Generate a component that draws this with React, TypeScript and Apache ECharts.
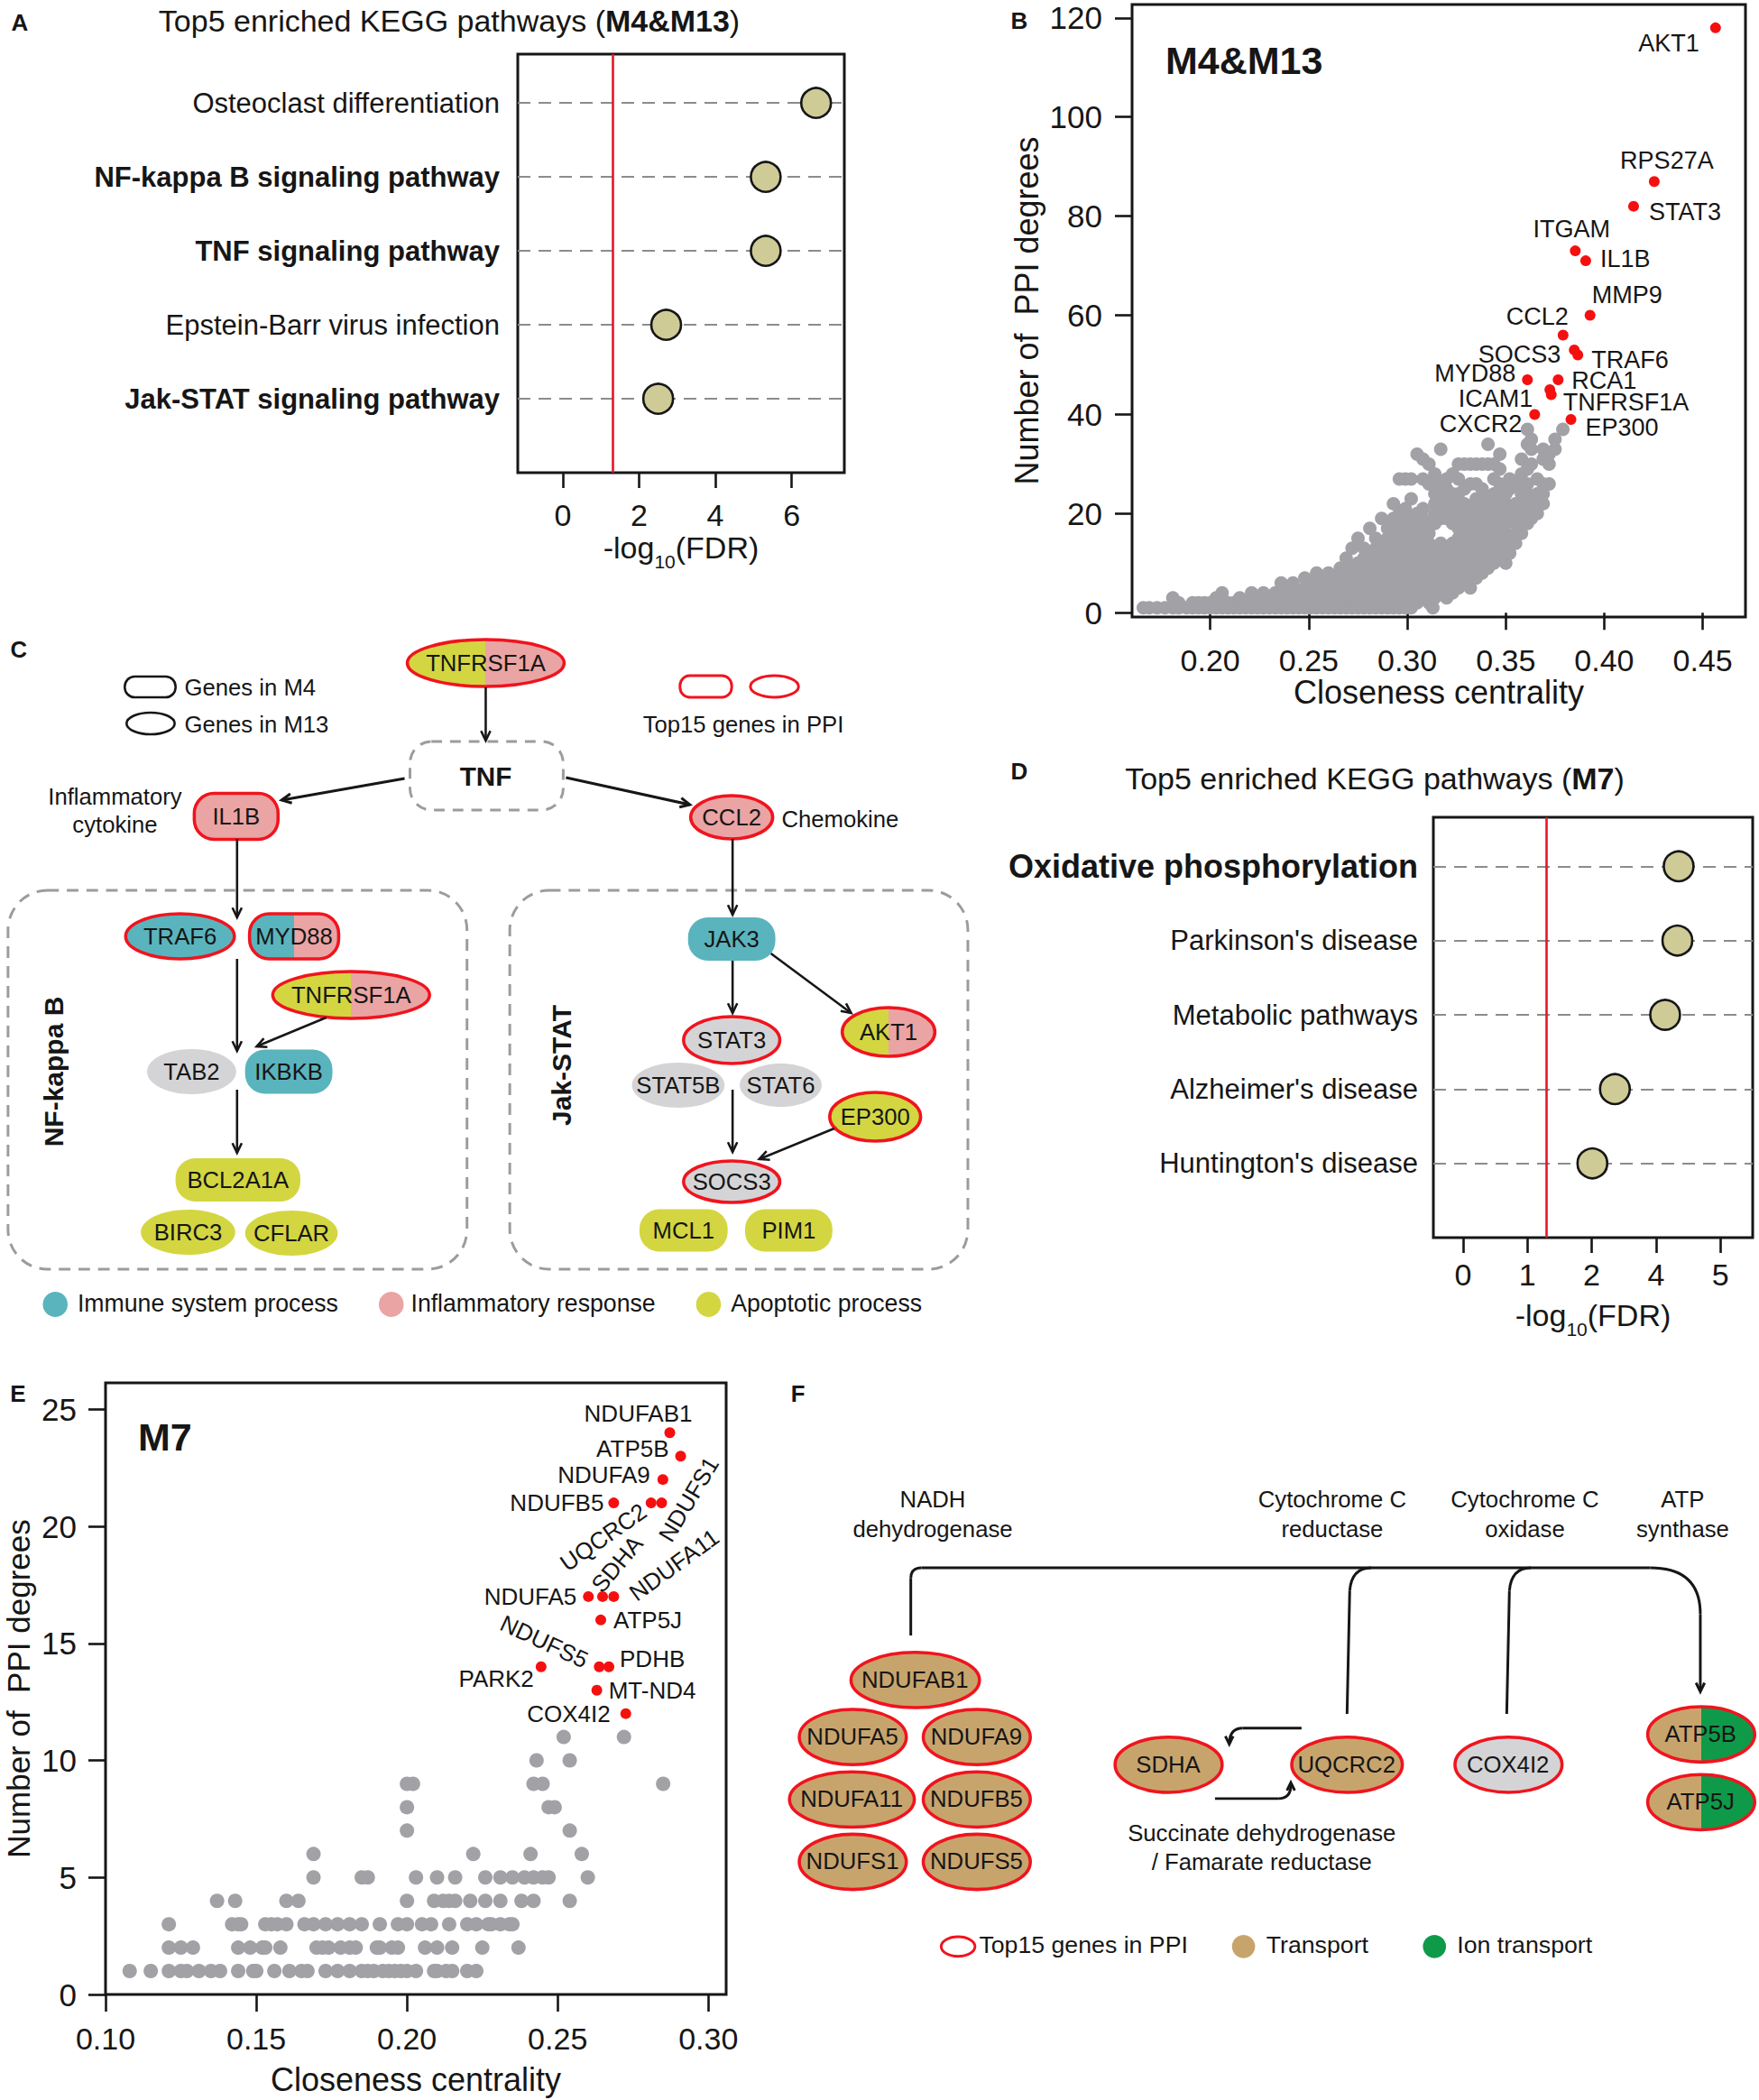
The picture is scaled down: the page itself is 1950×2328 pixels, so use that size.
import React, { useEffect, useRef } from 'react';
import * as echarts from 'echarts';

const FONT = '"Liberation Sans", Arial, Helvetica, sans-serif';
const INK = '#161616';
const RED = '#f0141e';
const REDLINE = '#e5162b';
const TEAL = '#5ab4bd';
const PINK = '#eaa4a4';
const YEL = '#d3d640';
const GREY = '#d4d4d6';
const TAN = '#c8a46d';
const GREEN = '#0f9a4a';
const KHAKI = '#cfcb97';
const DOT = '#a1a1a6';
const HOT = '#f51010';

// ---------------- Panel A : Top5 KEGG (M4&M13) ----------------
const pathwaysA = [
  'Osteoclast differentiation',
  'NF-kappa B signaling pathway',
  'TNF signaling pathway',
  'Epstein-Barr virus infection',
  'Jak-STAT signaling pathway',
];
const boldA = [false, true, true, false, true];
const scoreA = [6.64, 5.32, 5.32, 2.71, 2.5];
const xTicksA = [0, 2, 4, 6];

// ---------------- Panel D : Top5 KEGG (M7) ----------------
const pathwaysD = [
  'Oxidative phosphorylation',
  "Parkinson's disease",
  'Metabolic pathways',
  "Alzheimer's disease",
  "Huntington's disease",
];
const boldD = [true, false, false, false, false];
const scoreD = [3.35, 3.33, 3.14, 2.36, 2.01];
const xTickValsD = [0, 1, 2, 3, 4];
const xTickLabelsD = ['0', '1', '2', '4', '5'];

const FDR_CUTOFF = 1.301;

// ---------------- Panel B : PPI M4&M13 ----------------
const topGenesB = ['AKT1', 'RPS27A', 'STAT3', 'ITGAM', 'IL1B', 'MMP9', 'CCL2', 'SOCS3', 'TRAF6', 'MYD88', 'RCA1', 'ICAM1', 'TNFRSF1A', 'CXCR2', 'EP300'];
const topCloseB = [0.4565, 0.4254, 0.4149, 0.3853, 0.3906, 0.3928, 0.3791, 0.3848, 0.3866, 0.361, 0.3766, 0.3724, 0.3731, 0.3647, 0.3831];
const topDegreeB = [118, 87, 82, 73, 71, 60, 56, 53, 52, 47, 47, 45, 44, 40, 39];
// other genes: [closeness, list of degrees]
const bgColumnsB = [
  [0.166, [1]], [0.169, [1]], [0.173, [1]], [0.177, [1]], [0.181, [1, 3]], [0.184, [1, 2]], [0.188, [1]],
  [0.191, [1, 2]], [0.194, [1, 2]], [0.197, [1, 2]], [0.2, [1, 2]], [0.203, [1, 3]], [0.206, [1, 2, 4]],
  [0.209, [1, 2]], [0.212, [1, 2]], [0.215, [1, 2, 3]], [0.218, [1, 2]], [0.221, [1, 2, 4]], [0.224, [1, 2, 3]],
  [0.227, [1, 2, 4]], [0.23, [1, 2, 3]], [0.233, [1, 3, 4]], [0.236, [1, 2, 3, 6]], [0.239, [1, 2, 4, 5]],
  [0.242, [1, 2, 3, 6]], [0.245, [1, 2, 3, 4]], [0.248, [1, 2, 3, 5, 7]], [0.251, [1, 2, 3, 4, 6]], [0.254, [1, 2, 3, 5, 8]],
  [0.257, [1, 2, 3, 4, 6]], [0.26, [1, 2, 3, 5, 7, 8]], [0.263, [1, 2, 4, 6, 7]], [0.266, [1, 2, 3, 5, 7, 9]],
  [0.269, [1, 2, 3, 4, 6, 8, 11]], [0.272, [1, 2, 3, 5, 7, 9, 13]], [0.275, [1, 2, 4, 6, 8, 10, 15]],
  [0.278, [1, 2, 3, 5, 7, 9, 11, 13]], [0.281, [1, 2, 4, 6, 8, 10, 12, 17]], [0.284, [1, 3, 5, 7, 9, 11, 13, 15]],
  [0.287, [1, 2, 4, 6, 8, 10, 12, 14, 19]], [0.29, [1, 3, 5, 7, 9, 11, 13, 15, 17]],
  [0.293, [1, 2, 4, 6, 8, 10, 12, 14, 16, 19, 22]], [0.296, [1, 3, 5, 7, 9, 11, 13, 15, 17, 20, 27]],
  [0.299, [1, 2, 4, 6, 8, 10, 12, 14, 16, 18, 21, 27]], [0.302, [1, 3, 5, 7, 9, 11, 13, 15, 17, 19, 23, 27]],
  [0.305, [2, 4, 6, 8, 10, 12, 14, 16, 18, 20, 32]], [0.308, [3, 5, 7, 9, 11, 13, 15, 17, 19, 21, 27, 31]],
  [0.311, [2, 4, 6, 8, 10, 12, 14, 16, 18, 26, 30]], [0.313, [1]], [0.314, [3, 5, 7, 9, 11, 13, 18, 20, 22, 24, 28]],
  [0.317, [4, 6, 8, 10, 12, 14, 19, 21, 23, 26, 33]], [0.32, [3, 5, 7, 9, 11, 13, 19, 21, 23, 25, 27]],
  [0.323, [4, 6, 8, 10, 12, 14, 18, 20, 22, 24, 28]], [0.326, [5, 7, 9, 11, 13, 15, 17, 19, 21, 24, 27, 30]],
  [0.329, [6, 8, 10, 12, 14, 16, 18, 20, 22, 25, 30]], [0.332, [5, 7, 9, 11, 13, 15, 17, 19, 21, 26, 30]],
  [0.335, [7, 9, 11, 13, 15, 17, 19, 21, 23, 26, 30]], [0.338, [8, 10, 12, 14, 16, 18, 20, 22, 25, 30]],
  [0.341, [9, 11, 13, 15, 17, 19, 21, 23, 30, 34]], [0.344, [10, 12, 14, 16, 18, 20, 22, 24, 27, 30]],
  [0.347, [11, 13, 15, 17, 19, 21, 23, 26, 29, 32]], [0.35, [10, 14, 16, 18, 20, 22, 24]],
  [0.352, [12, 15, 19, 21, 25, 27]], [0.355, [14, 16, 18, 20, 22, 26]], [0.358, [16, 18, 20, 22, 24, 28, 31]],
  [0.361, [18, 20, 22, 24, 26, 29, 34, 37]], [0.363, [19, 21, 23, 30, 33, 35]], [0.366, [20, 22, 24, 27]],
  [0.369, [22, 24, 26, 31, 33]], [0.372, [26, 30, 32]], [0.375, [33, 35]], [0.379, [37]],
];
const xTicksB = [0.2, 0.25, 0.3, 0.35, 0.4, 0.45];
const yTicksB = [0, 20, 40, 60, 80, 100, 120];
// label placement (px offset from point, alignment)
const labelLayoutB = [
  [-18, 17, 'right'], [14, -23, 'center'], [17, 6, 'left'], [-4, -24, 'center'], [16, -2, 'left'],
  [2, -23, 'left'], [6, -21, 'right'], [-15, 5, 'right'], [15, 5, 'left'], [-13, -7, 'right'],
  [15, 1, 'left'], [-19, 10, 'right'], [13, 9, 'left'], [-14, 11, 'right'], [16, 9, 'left'],
];

// ---------------- Panel E : PPI M7 ----------------
const topGenesE = ['NDUFAB1', 'ATP5B', 'NDUFA9', 'NDUFB5', 'UQCRC2', 'NDUFS1', 'NDUFA5', 'SDHA', 'NDUFA11', 'ATP5J', 'PARK2', 'NDUFS5', 'PDHB', 'MT-ND4', 'COX4I2'];
const topCloseE = [0.2872, 0.2908, 0.2849, 0.2686, 0.281, 0.2845, 0.2602, 0.2649, 0.2686, 0.2643, 0.2445, 0.2638, 0.267, 0.263, 0.2726];
const topDegreeE = [24, 23, 22, 21, 21, 21, 17, 17, 17, 16, 14, 14, 14, 13, 12];
// other genes: [degree, list of closeness values]
const bgRowsE = [
  [1, [0.108, 0.115, 0.121, 0.125, 0.127, 0.131, 0.135, 0.138, 0.144, 0.149, 0.15, 0.156, 0.161, 0.165, 0.167, 0.173, 0.177, 0.181, 0.185, 0.187, 0.189, 0.192, 0.194, 0.196, 0.198, 0.2, 0.203, 0.209, 0.21, 0.213, 0.215, 0.22, 0.223]],
  [2, [0.121, 0.125, 0.129, 0.144, 0.148, 0.152, 0.153, 0.158, 0.17, 0.172, 0.174, 0.178, 0.181, 0.183, 0.19, 0.191, 0.195, 0.197, 0.206, 0.21, 0.215, 0.225, 0.237]],
  [3, [0.121, 0.142, 0.144, 0.145, 0.153, 0.155, 0.157, 0.16, 0.166, 0.169, 0.173, 0.177, 0.181, 0.185, 0.191, 0.197, 0.2, 0.205, 0.208, 0.214, 0.22, 0.223, 0.227, 0.228, 0.231, 0.234, 0.235]],
  [4, [0.137, 0.143, 0.16, 0.164, 0.2, 0.209, 0.212, 0.214, 0.216, 0.221, 0.226, 0.231, 0.238, 0.242, 0.254]],
  [5, [0.169, 0.185, 0.187, 0.203, 0.21, 0.216, 0.226, 0.231, 0.235, 0.239, 0.242, 0.245, 0.247, 0.26]],
  [6, [0.169, 0.222, 0.241, 0.258]],
  [7, [0.2, 0.254]],
  [8, [0.2, 0.247, 0.249]],
  [9, [0.2, 0.202, 0.242, 0.245, 0.285]],
  [10, [0.243, 0.254]],
  [11, [0.252, 0.272]],
];
const xTicksE = [0.1, 0.15, 0.2, 0.25, 0.3];
const yTicksE = [0, 5, 10, 15, 20, 25];
const labelLayoutE = [
  [25, -21, 'right', 0], [-13, -8, 'right', 0], [-14, -5, 'right', 0], [-11, 0, 'right', 0],
  [-53, 38, 'center', 35], [30, -4, 'center', 59], [-13, 0, 'right', 0], [16, -36, 'center', 50],
  [67, -35, 'center', 36], [14, 0, 'left', 0], [-8, 13, 'right', 0], [-61, -28, 'center', -25],
  [12, -9, 'left', 0], [13, 0, 'left', 0], [-17, 0, 'right', 0],
];

// ---------------- graphic helpers ----------------
function T(x: number, y: number, text: string, o: any = {}) {
  const align = o.align || 'center';
  const v = o.v || 'middle';
  return {
    type: 'text', x, y, rotation: o.rot || 0, z: 20,
    style: {
      text, fill: o.color || INK, fontSize: o.size || 26, fontWeight: o.bold ? 'bold' : 'normal', fontFamily: FONT,
      align, verticalAlign: v, textAlign: align, textVerticalAlign: v, rich: o.rich,
    },
  };
}
function split(a: string, b: string, at = 0.5) {
  return { type: 'linear', x: 0, y: 0, x2: 1, y2: 0, global: false,
    colorStops: [{ offset: 0, color: a }, { offset: at, color: a }, { offset: at, color: b }, { offset: 1, color: b }] };
}
function ell(cx: number, cy: number, rx: number, ry: number, fill: any, label: string, top = false, size = 26) {
  return [
    { type: 'ellipse', z: 10, shape: { cx, cy, rx, ry }, style: { fill, stroke: top ? RED : 'none', lineWidth: top ? 3.6 : 0 } },
    T(cx, cy, label, { size }),
  ];
}
function box(cx: number, cy: number, w: number, h: number, fill: any, label: string, top = false) {
  return [
    { type: 'rect', z: 10, shape: { x: cx - w / 2, y: cy - h / 2, width: w, height: h, r: 22 }, style: { fill, stroke: top ? RED : 'none', lineWidth: top ? 3.6 : 0 } },
    T(cx, cy, label),
  ];
}
function ln(x1: number, y1: number, x2: number, y2: number, w = 2.6) {
  return { type: 'line', z: 12, shape: { x1, y1, x2, y2 }, style: { stroke: INK, lineWidth: w } };
}
function bez(x1: number, y1: number, cx: number, cy: number, x2: number, y2: number, w = 2.6) {
  return { type: 'bezierCurve', z: 12, shape: { x1, y1, cpx1: cx, cpy1: cy, x2, y2 }, style: { stroke: INK, lineWidth: w, fill: 'none' } };
}
function head(x1: number, y1: number, x2: number, y2: number, len = 11, w = 2.6) {
  const a = Math.atan2(y2 - y1, x2 - x1);
  const a1 = a + Math.PI - 0.45;
  const a2 = a + Math.PI + 0.45;
  return { type: 'polyline', z: 12, shape: { points: [[x2 + len * Math.cos(a1), y2 + len * Math.sin(a1)], [x2, y2], [x2 + len * Math.cos(a2), y2 + len * Math.sin(a2)]] },
    style: { stroke: INK, lineWidth: w, fill: 'none' } };
}
function arrow(x1: number, y1: number, x2: number, y2: number, w = 2.6) {
  return [ln(x1, y1, x2, y2, w), head(x1, y1, x2, y2, 12, w)];
}
function dashBox(x: number, y: number, w: number, h: number, r: number) {
  return { type: 'rect', z: 5, shape: { x, y, width: w, height: h, r }, style: { fill: 'none', stroke: '#9c9c9c', lineWidth: 3, lineDash: [13, 9] } };
}
function dot(cx: number, cy: number, r: number, fill: string) {
  return { type: 'circle', z: 10, shape: { cx, cy, r }, style: { fill } };
}

function buildGraphics() {
  const titleRich = {
    n: { fontSize: 34, fontFamily: FONT, fill: INK },
    b: { fontSize: 34, fontFamily: FONT, fontWeight: 'bold', fill: INK },
  };
  const g: any[] = [
    T(22, 25, 'A', { size: 26, bold: true }),
    T(498, 23, '{n|Top5 enriched KEGG pathways (}{b|M4&M13}{n|)}', { rich: titleRich }),
    T(1130, 23, 'B', { size: 26, bold: true }),
    T(1292, 67, 'M4&M13', { size: 43, bold: true, align: 'left' }),
    T(1130, 855, 'D', { size: 26, bold: true }),
    T(1524, 863, '{n|Top5 enriched KEGG pathways (}{b|M7}{n|)}', { rich: titleRich }),
    T(20, 1545, 'E', { size: 26, bold: true }),
    T(153, 1593, 'M7', { size: 43, bold: true, align: 'left' }),
  ];

  // ---------- Panel C ----------
  const c: any[] = [
    T(21, 720, 'C', { size: 26, bold: true }),
    { type: 'rect', z: 10, shape: { x: 140, y: 750, width: 57, height: 23, r: 11 }, style: { fill: 'none', stroke: INK, lineWidth: 2.6 } },
    T(207, 762, 'Genes in M4', { align: 'left' }),
    { type: 'ellipse', z: 10, shape: { cx: 169, cy: 802, rx: 27, ry: 12 }, style: { fill: 'none', stroke: INK, lineWidth: 2.6 } },
    T(207, 803, 'Genes in M13', { align: 'left' }),
    { type: 'rect', z: 10, shape: { x: 763, y: 749, width: 58, height: 24, r: 11 }, style: { fill: 'none', stroke: RED, lineWidth: 3 } },
    { type: 'ellipse', z: 10, shape: { cx: 869, cy: 761, rx: 27, ry: 12 }, style: { fill: 'none', stroke: RED, lineWidth: 3 } },
    T(834, 803, 'Top15 genes in PPI'),
    ...ell(545, 735, 88, 26, split(YEL, PINK), 'TNFRSF1A', true),
    ...arrow(545, 762, 545, 821),
    { type: 'rect', z: 5, shape: { x: 460, y: 822, width: 172, height: 76, r: 24 }, style: { fill: 'none', stroke: '#9c9c9c', lineWidth: 3, lineDash: [12, 9] } },
    T(545, 860, 'TNF', { size: 30, bold: true }),
    T(129, 883, 'Inflammatory'),
    T(129, 914, 'cytokine'),
    ...box(265, 905, 94, 51, PINK, 'IL1B', true),
    ...ell(821, 906, 46, 24, PINK, 'CCL2', true),
    T(877, 908, 'Chemokine', { align: 'left' }),
    ...arrow(454, 863, 316, 887, 3),
    ...arrow(635, 862, 774, 892, 3),
    ...arrow(266, 930, 266, 1017),
    ...arrow(822, 930, 822, 1014),
    dashBox(9, 987, 515, 420, 44),
    dashBox(572, 987, 514, 420, 44),
    ...ell(202, 1038, 61, 25, TEAL, 'TRAF6', true),
    ...box(330, 1038, 100, 50, split(TEAL, PINK), 'MYD88', true),
    ...arrow(266, 1063, 266, 1165),
    ...ell(394, 1103, 88, 26, split(YEL, PINK), 'TNFRSF1A', true),
    ...arrow(366, 1128, 288, 1160),
    ...ell(215, 1188, 50, 25, GREY, 'TAB2'),
    ...box(324, 1188, 98, 49, TEAL, 'IKBKB'),
    ...arrow(266, 1208, 266, 1278),
    ...box(267, 1308, 140, 48, YEL, 'BCL2A1A'),
    ...ell(211, 1366, 53, 25, YEL, 'BIRC3'),
    ...ell(327, 1367, 52, 25, YEL, 'CFLAR'),
    T(60, 1188, 'NF-kappa B', { size: 30, bold: true, rot: Math.PI / 2 }),
    ...box(821, 1041, 98, 48, TEAL, 'JAK3'),
    ...arrow(822, 1065, 822, 1123),
    ...arrow(865, 1057, 955, 1123),
    ...ell(821, 1153, 54, 26, GREY, 'STAT3', true),
    ...ell(997, 1144, 52, 27, split(YEL, PINK), 'AKT1', true),
    ...ell(761, 1203, 52, 25, GREY, 'STAT5B'),
    ...ell(876, 1203, 46, 24, GREY, 'STAT6'),
    ...arrow(822, 1208, 822, 1277),
    ...ell(982, 1238, 51, 27, YEL, 'EP300', true),
    ...arrow(936, 1251, 852, 1285),
    ...ell(821, 1310, 54, 23, GREY, 'SOCS3', true),
    ...box(767, 1364, 99, 47, YEL, 'MCL1'),
    ...box(885, 1364, 98, 47, YEL, 'PIM1'),
    T(630, 1181, 'Jak-STAT', { size: 30, bold: true, rot: Math.PI / 2 }),
    dot(62, 1446, 14, TEAL), T(87, 1445, 'Immune system process', { align: 'left', size: 27 }),
    dot(439, 1446, 14, PINK), T(461, 1445, 'Inflammatory response', { align: 'left', size: 27 }),
    dot(795, 1446, 14, YEL), T(820, 1445, 'Apoptotic process', { align: 'left', size: 27 }),
  ];
  g.push({ type: 'group', x: 0, y: 0, scaleX: 0.988, scaleY: 1, children: c });

  // ---------- Panel F ----------
  const tanEll = (cx: number, cy: number, rx: number, label: string, fill: any = TAN) => ell(cx, cy, rx, 31, fill, label, true);
  const f: any[] = [
    T(885, 1545, 'F', { size: 26, bold: true }),
    T(1036, 1664, 'NADH'), T(1036, 1697, 'dehydrogenase'),
    T(1484, 1664, 'Cytochrome C'), T(1484, 1697, 'reductase'),
    T(1700, 1664, 'Cytochrome C'), T(1700, 1697, 'oxidase'),
    T(1877, 1664, 'ATP'), T(1877, 1697, 'synthase'),
    ln(1011, 1816, 1011, 1752, 3), bez(1011, 1752, 1011, 1740, 1023, 1740, 3), ln(1023, 1740, 1840, 1740, 3),
    bez(1840, 1740, 1896, 1740, 1896, 1792, 3), ln(1896, 1792, 1896, 1878, 3), head(1896, 1792, 1896, 1879, 11, 3),
    ln(1500, 1904, 1503, 1766, 3), bez(1503, 1766, 1505, 1740, 1527, 1740, 3),
    ln(1679, 1904, 1682, 1766, 3), bez(1682, 1766, 1684, 1740, 1706, 1740, 3),
    ...tanEll(1016, 1866, 72, 'NDUFAB1'),
    ...tanEll(946, 1930, 60, 'NDUFA5'),
    ...tanEll(1085, 1930, 60, 'NDUFA9'),
    ...tanEll(945, 2000, 70, 'NDUFA11'),
    ...tanEll(1085, 2000, 60, 'NDUFB5'),
    ...tanEll(946, 2070, 60, 'NDUFS1'),
    ...tanEll(1085, 2070, 60, 'NDUFS5'),
    ...tanEll(1300, 1961, 60, 'SDHA'),
    ...tanEll(1500, 1961, 62, 'UQCRC2'),
    ...tanEll(1681, 1961, 60, 'COX4I2', GREY),
    ...tanEll(1897, 1927, 60, 'ATP5B', split(TAN, GREEN)),
    ...tanEll(1897, 2003, 60, 'ATP5J', split(TAN, GREEN)),
    ln(1449, 1920, 1383, 1920, 3), bez(1383, 1920, 1369, 1920, 1368, 1936, 3), head(1368, 1926, 1368, 1938, 10, 3),
    ln(1352, 1999, 1423, 1999, 3), bez(1423, 1999, 1437, 1999, 1437, 1984, 3), head(1437, 1994, 1437, 1981, 10, 3),
    T(1405, 2038, 'Succinate dehydrogenase'), T(1405, 2071, '/ Famarate reductase'),
    { type: 'ellipse', z: 10, shape: { cx: 1064, cy: 2165, rx: 19, ry: 11 }, style: { fill: 'none', stroke: RED, lineWidth: 3 } },
    T(1088, 2164, 'Top15 genes in PPI', { align: 'left', size: 27 }),
    dot(1384, 2165, 13, TAN), T(1410, 2164, 'Transport', { align: 'left', size: 27 }),
    dot(1598, 2165, 13, GREEN), T(1624, 2164, 'Ion transport', { align: 'left', size: 27 }),
  ];
  const sx = 0.9886;
  const sy = 0.9876;
  g.push({ type: 'group', x: 860 * (1 - sx), y: 1520 * (1 - sy), scaleX: sx, scaleY: sy, children: f });
  return g;
}

function buildOption() {
  const rowFmt = (names: string[], bold: boolean[]) => (v: number) => {
    const r = Math.round(v);
    if (Math.abs(v - r) > 1e-6) return '';
    const i = names.length - r;
    if (i < 0 || i >= names.length) return '';
    return (bold[i] ? '{b|' : '{n|') + names[i] + '}';
  };
  const subRich = (fs: number) => ({
    n: { fontSize: fs, lineHeight: fs, verticalAlign: 'top', fontFamily: FONT, color: INK },
    s: { fontSize: Math.round(fs * 0.62), verticalAlign: 'top', padding: [Math.round(fs * 0.65), 0, 0, 0], fontFamily: FONT, color: INK },
  });
  const tick = (vals: number[], len = 16) => ({ show: true, inside: false, length: len, lineStyle: { color: INK, width: 2.6 }, customValues: vals });
  const grid = (left: number, top: number, width: number, height: number) => ({
    left, top, width, height, show: true, borderColor: INK, borderWidth: 3, backgroundColor: 'transparent', containLabel: false, outerBoundsMode: 'none',
  });
  const rowAxis = (names: string[], bold: boolean[], boldSize: number, margin: number) => ({
    type: 'value', min: 0, max: 5.66, interval: 1,
    axisLine: { show: false }, axisTick: { show: false },
    splitLine: { show: true, showMinLine: false, showMaxLine: false, lineStyle: { color: '#8c8c8c', width: 2, type: [14, 9] } },
    axisLabel: {
      margin, formatter: rowFmt(names, bold),
      rich: { n: { fontSize: 31, fontFamily: FONT, color: INK }, b: { fontSize: boldSize, fontWeight: 'bold', fontFamily: FONT, color: INK } },
    },
  });
  const lab = (fs: number) => ({ fontSize: fs, color: INK, fontFamily: FONT });

  const bgB: number[][] = [];
  bgColumnsB.forEach((c: any) => c[1].forEach((y: number) => bgB.push([c[0], y])));
  const bgE: number[][] = [];
  bgRowsE.forEach((r: any) => r[1].forEach((x: number) => bgE.push([x, r[0]])));

  return {
    animation: false,
    backgroundColor: '#ffffff',
    grid: [grid(574, 60, 362, 464), grid(1255, 5, 680, 679), grid(1589, 906, 354, 466), grid(117, 1533, 688, 678)],
    xAxis: [
      {
        gridIndex: 0, type: 'value', min: -1.18, max: 7.38,
        axisLine: { show: false }, splitLine: { show: false }, axisTick: tick(xTicksA, 17),
        axisLabel: { customValues: xTicksA, margin: 30, ...lab(34) },
        name: '{n|-log}{s|10}{n|(FDR)}', nameLocation: 'middle', nameGap: 66, nameTextStyle: { rich: subRich(34) },
      },
      {
        gridIndex: 1, type: 'value', min: 0.1603, max: 0.4717,
        axisLine: { show: false }, splitLine: { show: false }, axisTick: tick(xTicksB, 19),
        axisLabel: { customValues: xTicksB, margin: 31, formatter: (v: number) => v.toFixed(2), ...lab(34) },
        name: 'Closeness centrality', nameLocation: 'middle', nameGap: 64, nameTextStyle: lab(36),
      },
      {
        gridIndex: 2, type: 'value', min: -0.46, max: 4.5,
        axisLine: { show: false }, splitLine: { show: false }, axisTick: tick(xTickValsD, 17),
        axisLabel: { customValues: xTickValsD, margin: 24, formatter: (v: number) => xTickLabelsD[xTickValsD.indexOf(Math.round(v))] ?? '', ...lab(34) },
        name: '{n|-log}{s|10}{n|(FDR)}', nameLocation: 'middle', nameGap: 69, nameTextStyle: { rich: subRich(34) },
      },
      {
        gridIndex: 3, type: 'value', min: 0.1, max: 0.3059,
        axisLine: { show: false }, splitLine: { show: false }, axisTick: tick(xTicksE, 19),
        axisLabel: { customValues: xTicksE, margin: 32, formatter: (v: number) => v.toFixed(2), ...lab(34) },
        name: 'Closeness centrality', nameLocation: 'middle', nameGap: 76, nameTextStyle: lab(36),
      },
    ],
    yAxis: [
      { gridIndex: 0, ...rowAxis(pathwaysA, boldA, 31, 20) },
      {
        gridIndex: 1, type: 'value', min: -0.86, max: 122.7,
        axisLine: { show: false }, splitLine: { show: false }, axisTick: tick(yTicksB, 19),
        axisLabel: { customValues: yTicksB, margin: 33, ...lab(35) },
        name: 'Number of  PPI degrees', nameLocation: 'middle', nameGap: 99, nameTextStyle: lab(36),
      },
      { gridIndex: 2, ...rowAxis(pathwaysD, boldD, 36, 17) },
      {
        gridIndex: 3, type: 'value', min: 0, max: 26.13,
        axisLine: { show: false }, splitLine: { show: false }, axisTick: tick(yTicksE, 19),
        axisLabel: { customValues: yTicksE, margin: 32, ...lab(35) },
        name: 'Number of  PPI degrees', nameLocation: 'middle', nameGap: 79, nameTextStyle: lab(35),
      },
    ],
    series: [
      {
        type: 'scatter', xAxisIndex: 0, yAxisIndex: 0, z: 5,
        data: scoreA.map((v, i) => [v, pathwaysA.length - i]),
        symbolSize: 33, itemStyle: { color: KHAKI, borderColor: INK, borderWidth: 2.6, opacity: 1 },
        markLine: { silent: true, symbol: 'none', label: { show: false }, lineStyle: { color: REDLINE, width: 2.6, type: 'solid' }, data: [{ xAxis: FDR_CUTOFF }] },
      },
      {
        type: 'scatter', xAxisIndex: 1, yAxisIndex: 1, z: 3,
        data: bgB, symbolSize: 15, itemStyle: { color: DOT, opacity: 1 },
      },
      {
        type: 'scatter', xAxisIndex: 1, yAxisIndex: 1, z: 4,
        symbolSize: 12, itemStyle: { color: HOT, opacity: 1 },
        label: { show: true, formatter: '{b}', lineHeight: 22, ...lab(27) },
        data: topGenesB.map((g, i) => {
          const L: any = labelLayoutB[i];
          return { name: g, value: [topCloseB[i], topDegreeB[i]], label: { position: [L[0] + 6, L[1] + 6], align: L[2], verticalAlign: 'middle' } };
        }),
      },
      {
        type: 'scatter', xAxisIndex: 2, yAxisIndex: 2, z: 5,
        data: scoreD.map((v, i) => [v, pathwaysD.length - i]),
        symbolSize: 33, itemStyle: { color: KHAKI, borderColor: INK, borderWidth: 2.6, opacity: 1 },
        markLine: { silent: true, symbol: 'none', label: { show: false }, lineStyle: { color: REDLINE, width: 2.6, type: 'solid' }, data: [{ xAxis: FDR_CUTOFF }] },
      },
      {
        type: 'scatter', xAxisIndex: 3, yAxisIndex: 3, z: 3,
        data: bgE, symbolSize: 16, itemStyle: { color: DOT, opacity: 1 },
      },
      {
        type: 'scatter', xAxisIndex: 3, yAxisIndex: 3, z: 4,
        symbolSize: 12, itemStyle: { color: HOT, opacity: 1 },
        label: { show: true, formatter: '{b}', lineHeight: 22, ...lab(26) },
        data: topGenesE.map((g, i) => {
          const L: any = labelLayoutE[i];
          return { name: g, value: [topCloseE[i], topDegreeE[i]], label: { position: [L[0] + 6, L[1] + 6], align: L[2], verticalAlign: 'middle', rotate: L[3] } };
        }),
      },
    ],
    graphic: buildGraphics(),
  };
}

export default function App() {
  const ref = useRef<HTMLDivElement>(null);
  useEffect(() => {
    document.body.style.margin = '0';
    const chart = echarts.init(ref.current as HTMLDivElement, undefined, { renderer: 'svg' });
    chart.setOption(buildOption() as any);
    return () => chart.dispose();
  }, []);
  return <div ref={ref} style={{ width: 1950, height: 2328, position: 'absolute', left: 0, top: 0, background: '#fff' }} />;
}
